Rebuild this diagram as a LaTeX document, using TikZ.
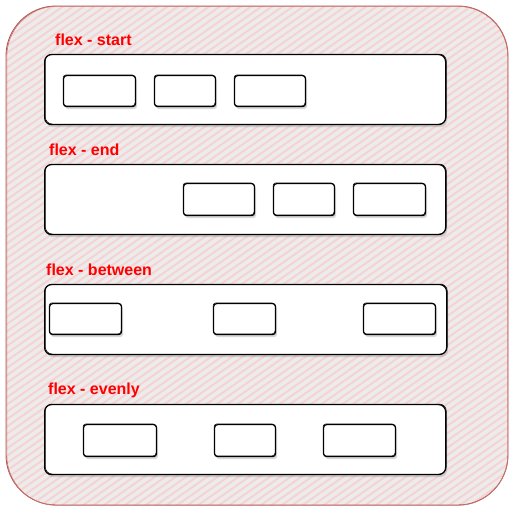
\documentclass[tikz,border=0pt]{standalone}
\usepackage{fontspec}
\setmainfont{Liberation Sans}
\usetikzlibrary{patterns.meta,shadows}
\definecolor{outerline}{HTML}{B85450}
\definecolor{hatch}{HTML}{F6D2D2}
\definecolor{bgfill}{HTML}{ECECEC}
\tikzset{
  panel/.style={draw=outerline, line width=0.9pt, rounded corners=50pt,
    preaction={fill=bgfill},
    pattern={Lines[angle=35,distance=6pt,line width=2pt]}, pattern color=hatch,
    anchor=north west, inner sep=0pt},
  panelecho/.style={draw=outerline!80, line width=0.6pt, rounded corners=50pt,
    anchor=north west, inner sep=0pt},
  container/.style={draw=black, fill=white, line width=1.2pt, rounded corners=7pt,
    anchor=north west, inner sep=0pt,
    drop shadow={opacity=0.3, shadow xshift=1.5pt, shadow yshift=-2.5pt},
    postaction={draw, line width=0.5pt, rounded corners=7pt, transform canvas={xshift=0.7pt, yshift=0.6pt}}},
  item/.style={draw=black, fill=white, line width=1.2pt, rounded corners=3pt,
    anchor=north west, inner sep=0pt,
    drop shadow={opacity=0.3, shadow xshift=1.5pt, shadow yshift=-2.5pt},
    postaction={draw, line width=0.5pt, rounded corners=3pt, transform canvas={xshift=-0.6pt, yshift=0.7pt}}},
  lbl/.style={text=red, font=\bfseries\fontsize{16}{19}\selectfont, anchor=base west, inner sep=0pt}
}
\begin{document}
\begin{tikzpicture}[x=1pt, y=-1pt]
\useasboundingbox (0,0) rectangle (511,512);
% outer panel
\node[panel, minimum width=502pt, minimum height=499pt] (panel) at (5,5) {};
\node[panelecho, minimum width=501pt, minimum height=499pt] (panelb) at (6.5,6) {};

% row 1: flex - start
\node[lbl] (l1) at (55,45) {flex - start};
\node[container, minimum width=401pt, minimum height=70pt] (c1) at (44,54) {};
\node[item, minimum width=72pt, minimum height=31pt] (b11) at (63,75) {};
\node[item, minimum width=61pt, minimum height=31pt] (b12) at (154,75) {};
\node[item, minimum width=71pt, minimum height=31pt] (b13) at (234,75) {};

% row 2: flex - end
\node[lbl] (l2) at (49,155) {flex - end};
\node[container, minimum width=401pt, minimum height=70pt] (c2) at (44,164) {};
\node[item, minimum width=71pt, minimum height=32pt] (b21) at (183,183) {};
\node[item, minimum width=61pt, minimum height=32pt] (b22) at (273,183) {};
\node[item, minimum width=72pt, minimum height=32pt] (b23) at (353,183) {};

% row 3: flex - between
\node[lbl] (l3) at (46,275) {flex - between};
\node[container, minimum width=402pt, minimum height=70pt] (c3) at (44,284) {};
\node[item, minimum width=72pt, minimum height=31pt] (b31) at (49,303) {};
\node[item, minimum width=62pt, minimum height=31pt] (b32) at (213,303) {};
\node[item, minimum width=72pt, minimum height=31pt] (b33) at (363,303) {};

% row 4: flex - evenly
\node[lbl] (l4) at (48,394) {flex - evenly};
\node[container, minimum width=401pt, minimum height=70pt] (c4) at (44,404) {};
\node[item, minimum width=73pt, minimum height=32pt] (b41) at (83,424) {};
\node[item, minimum width=61pt, minimum height=32pt] (b42) at (214,424) {};
\node[item, minimum width=72pt, minimum height=32pt] (b43) at (323,424) {};
\end{tikzpicture}
\end{document}
